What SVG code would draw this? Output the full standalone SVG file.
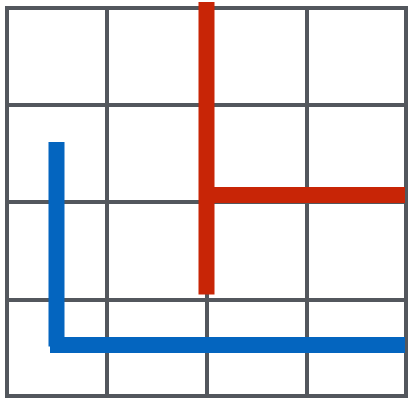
<svg xmlns="http://www.w3.org/2000/svg" width="408" height="398" viewBox="0 0 408 398">
  <style>
    .grid { stroke: #53575d; stroke-width: 4; fill: none; stroke-linecap: square; }
    .red { stroke: #c82506; stroke-width: 16; fill: none; }
    .blue { stroke: #0465bf; stroke-width: 16; fill: none; }
  </style>
  <rect width="408" height="398" fill="#ffffff"/>
  <g id="grid">
    <path class="grid" d="M7,8 H406 M7,105 H406 M7,202 H406 M7,300 H406 M7,396 H406"/>
    <path class="grid" d="M7,8 V396 M107,8 V396 M207,8 V396 M307,8 V396 M406,8 V396"/>
  </g>
  <g id="connectors">
    <path class="red" d="M206.5,2 V294.5"/>
    <path class="red" d="M214,195 H405"/>
    <path class="blue" d="M56.5,142 V346.5"/>
    <path class="blue" d="M50,345 H405"/>
  </g>
</svg>
